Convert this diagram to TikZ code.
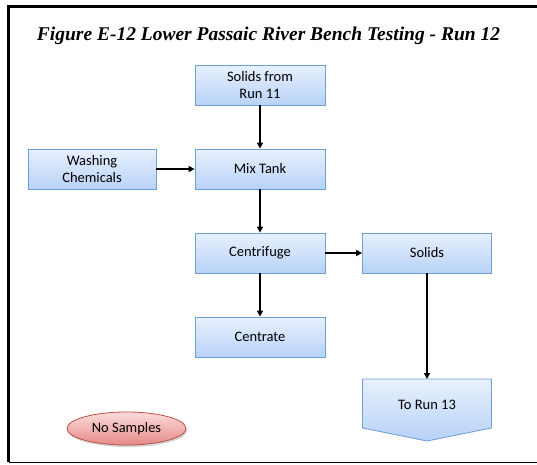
\documentclass[tikz,border=0pt]{standalone}
\usepackage{fontspec}
\setmainfont{Carlito}
\newfontfamily\titlefont{Liberation Serif}
\usetikzlibrary{arrows.meta,shadows,shapes.geometric}
\definecolor{boxtop}{HTML}{E8F0FD}
\definecolor{boxbot}{HTML}{B8D2F8}
\definecolor{boxline}{HTML}{6E9ED6}
\definecolor{ovtop}{HTML}{FBDCDC}
\definecolor{ovbot}{HTML}{E58A88}
\definecolor{ovline}{HTML}{C0504D}
\begin{document}
\begin{tikzpicture}[x=1pt,y=-1pt,
  procbox/.style={rectangle,draw=boxline,line width=0.8pt,top color=boxtop,bottom color=boxbot,
    minimum width=130pt,minimum height=40pt,inner sep=0pt,align=center,
    font=\fontsize{14.5pt}{17pt}\selectfont},
  flow/.style={line width=2pt,-{Triangle[length=6pt,width=6pt]}},
  frameline/.style={line width=3pt}]
\useasboundingbox (0,0) rectangle (537,464);
% frame
\draw[frameline] (537,6.5) -- (8.5,6.5) -- (8.5,462);
\draw[line width=1.5pt] (8.5,462.5) -- (537,462.5);
% title
\node[anchor=base,inner sep=0pt] (title) at (268.5,40)
  {\resizebox{463pt}{!}{\titlefont\bfseries\itshape Figure E-12 Lower Passaic River Bench Testing - Run 12}};
% boxes
\node[procbox] (src) at (260,85) {Solids from\\Run 11};
\node[procbox,minimum width=128pt] (wash) at (92,169) {Washing\\Chemicals};
\node[procbox] (mix) at (260,169) {Mix Tank};
\node[procbox] (cent) at (260,253) {Centrifuge};
\node[procbox,minimum width=129pt] (solids) at (427,253) {Solids};
\node[procbox] (centrate) at (260,337) {Centrate};
% To Run 13 pentagon
\path[draw=boxline,line width=0.8pt,top color=boxtop,bottom color=boxbot]
  (362.5,379) -- (491.5,379) -- (491.5,428) -- (427,441) -- (362.5,428) -- cycle;
\coordinate (torunTop) at (427,379);
\node[inner sep=0pt,font=\fontsize{14.5pt}{17pt}\selectfont] (torun) at (427,405) {To Run 13};
% no samples
\node[ellipse,draw=ovline,line width=0.8pt,top color=ovtop,bottom color=ovbot,
  minimum width=119pt,minimum height=33pt,inner sep=0pt,
  drop shadow={shadow xshift=1pt,shadow yshift=-2pt,opacity=0.35},
  font=\fontsize{14.5pt}{17pt}\selectfont] (nos) at (126.5,428.5) {No Samples};
% connectors
\draw[flow] (src.south) -- (mix.north);
\draw[flow] (wash.east) -- (mix.west);
\draw[flow] (mix.south) -- (cent.north);
\draw[flow] (cent.east) -- (solids.west);
\draw[flow] (cent.south) -- (centrate.north);
\draw[flow] (solids.south) -- (torunTop);
\end{tikzpicture}
\end{document}
